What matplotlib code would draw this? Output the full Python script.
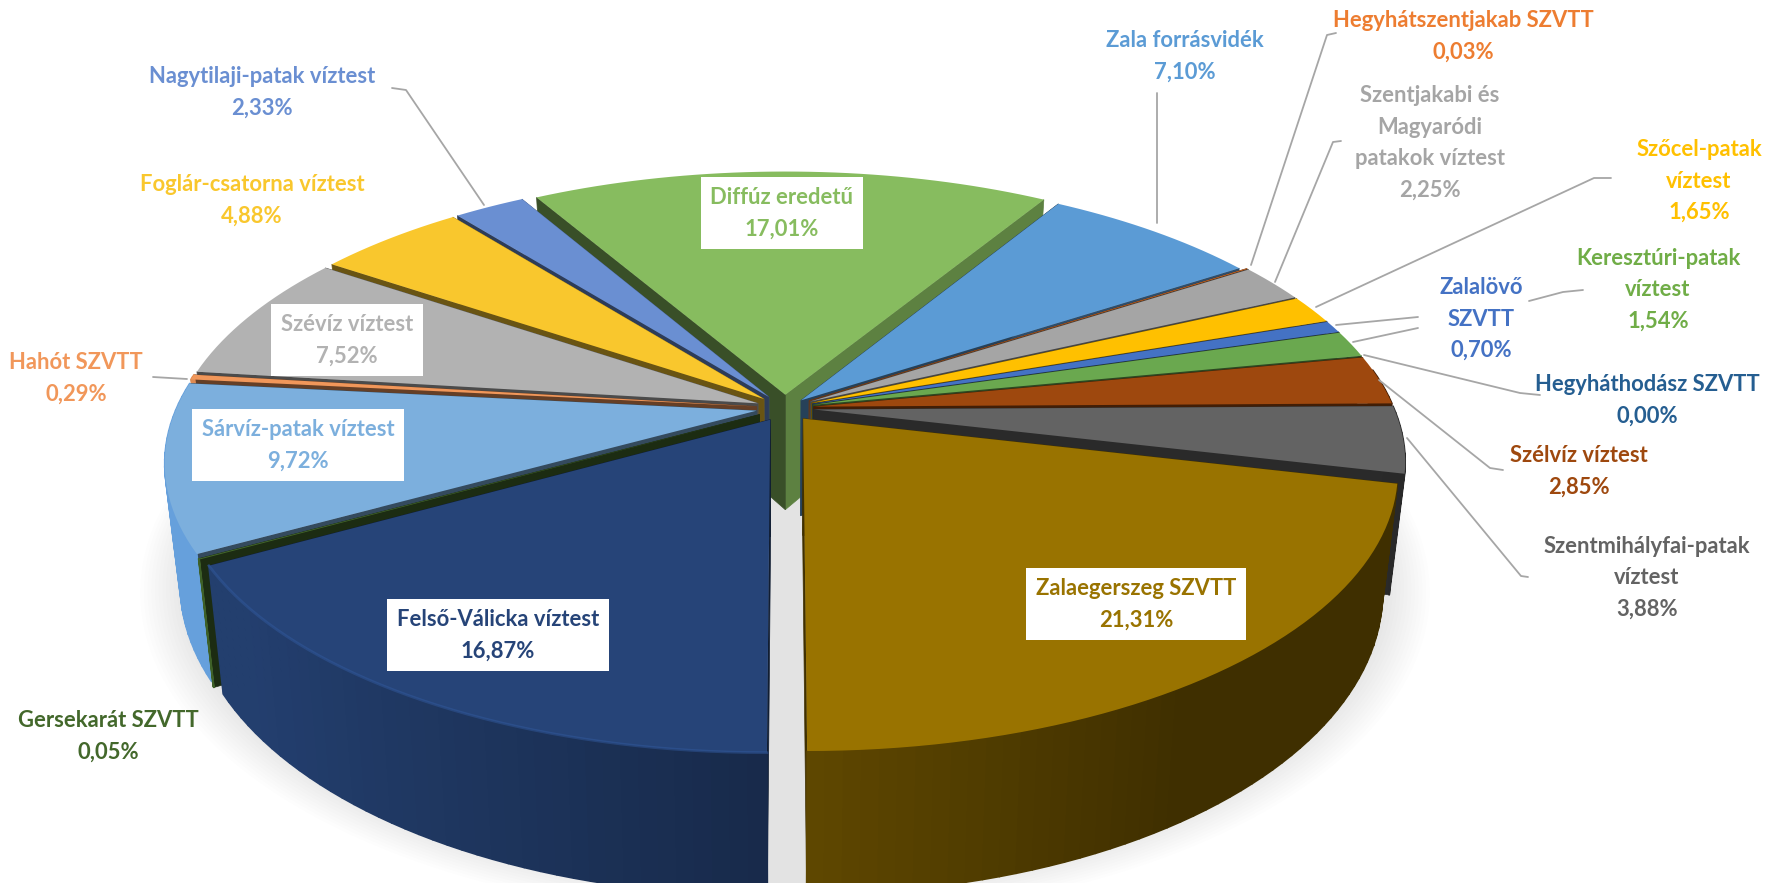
import numpy as np
import matplotlib
matplotlib.use('Agg')
import matplotlib.pyplot as plt
from matplotlib.collections import PolyCollection

plt.rcParams['font.family'] = ['Lato', 'DejaVu Sans']

names = ['Zalaegerszeg SZVTT', 'Szentmihályfai-patak\nvíztest', 'Szélvíz víztest', 'Hegyháthodász SZVTT',
         'Keresztúri-patak\nvíztest', 'Zalalövő\nSZVTT', 'Szőcel-patak\nvíztest',
         'Szentjakabi és\nMagyaródi\npatakok víztest', 'Hegyhátszentjakab SZVTT', 'Zala forrásvidék',
         'Diffúz eredetű', 'Nagytilaji-patak víztest', 'Foglár-csatorna víztest', 'Szévíz víztest',
         'Hahót SZVTT', 'Sárvíz-patak víztest', 'Gersekarát SZVTT', 'Felső-Válicka víztest']
values = [21.31, 3.88, 2.85, 0.00, 1.54, 0.70, 1.65, 2.25, 0.03, 7.10, 17.01, 2.33, 4.88, 7.52, 0.29, 9.72, 0.05, 16.87]
colors = ['#997300', '#636363', '#9E480E', '#255E91', '#6AA84F', '#4472C4', '#FFC000', '#A5A5A5', '#ED7D31',
          '#5B9BD5', '#87BC5F', '#6A8FD2', '#F9C72D', '#B2B2B2', '#F1975A', '#7CAFDD', '#43682B', '#264478']
text_colors = ['#997300', '#636363', '#9E480E', '#255E91', '#70AD47', '#4472C4', '#FFC000', '#A5A5A5', '#ED7D31',
               '#5B9BD5', '#87BC5F', '#6A8FD2', '#F9C72D', '#B2B2B2', '#F1975A', '#7CAFDD', '#43682B', '#264478']
label_x = [1136, 1647, 1579, 1647, 1658, 1481, 1699, 1430, 1463, 1185, 782, 262, 252, 347, 76, 298, 108, 498]
label_y = [604, 578, 471, 400, 290, 319, 181, 143, 36, 56, 213, 92, 200, 340, 378, 445, 736, 635]
boxed = ['Zalaegerszeg SZVTT', 'Diffúz eredetű', 'Szévíz víztest', 'Sárvíz-patak víztest', 'Felső-Válicka víztest']

leaders = [[(392, 88), (406, 90), (484, 205)],
           [(1157, 93), (1157, 223)],
           [(1336, 33), (1327, 35), (1251, 265)],
           [(1341, 141), (1333, 142), (1275, 282)],
           [(1611, 178), (1594, 178), (1316, 307)],
           [(1418, 317), (1336, 325)],
           [(1418, 328), (1353, 342)],
           [(1583, 290), (1563, 292), (1529, 301)],
           [(1540, 395), (1520, 393), (1364, 355)],
           [(1503, 470), (1490, 468), (1379, 380)],
           [(1528, 577), (1521, 576), (1407, 438)],
           [(153, 377), (187, 379)]]

# perspective of the tilted pie, in pixels
cx, cy = 785, 408
rx, ry = 580, 268
persp = 0.181
depth = 116
explode = 0.05


def project(u, v):
    s = 1 / (1 + persp * v)
    return cx + rx * u * s, cy - ry * v * s, s


def lower(x, y, s):
    return cx + (x - cx) * 0.975, y + depth * s


def shade(c, f):
    rgb = np.array(matplotlib.colors.to_rgb(c))
    return tuple(np.clip(rgb * f, 0, 1))


def wall(u0, v0, u1, v1, color):
    x0, y0, s0 = project(u0, v0)
    x1, y1, s1 = project(u1, v1)
    a0 = lower(x0, y0, s0)
    a1 = lower(x1, y1, s1)
    ax.fill([x0, x1, a1[0], a0[0]], [y0, y1, a1[1], a0[1]], color=color, lw=0.5)


fig = plt.figure(figsize=(17.81, 8.83), dpi=100)
ax = fig.add_axes([0, 0, 1, 1])
ax.set_xlim(0, 1781)
ax.set_ylim(883, 0)
ax.axis('off')

# soft shadow under the pie
ang = np.radians(np.linspace(0, 360, 240))
for k in range(14):
    r = 1.09 - k * 0.006
    x, y, s = project(r * np.cos(ang), r * np.sin(ang))
    ax.fill(x, y + depth * s + 4, color='black', alpha=0.007, lw=0)

edges = np.concatenate([[-90], -90 + (np.cumsum(values) / np.sum(values)) * 360])
mids = (edges[:-1] + edges[1:]) / 2
order = np.argsort(-np.sin(np.radians(mids)))

for i in order:
    if values[i] == 0:
        continue
    t0, t1, b = edges[i], edges[i + 1], np.radians(mids[i])
    e = 0.04 if names[i] == 'Zala forrásvidék' else explode
    ou, ov = e * np.cos(b), e * np.sin(b)
    th = np.radians(np.linspace(t0, t1, max(3, int((t1 - t0) / 1.5) + 2)))
    u = ou + np.cos(th)
    v = ov + np.sin(th)

    # flat cut faces, one on each side of the slice
    n0 = np.radians(t0 - 90)
    f0 = 0.42 + 0.35 * max(0, np.cos(n0) - 0.4) / 0.6
    wall(ou, ov, u[0], v[0], shade(colors[i], f0))
    wall(ou, ov, u[-1], v[-1], shade(colors[i], 0.42))

    # curved outer face, lit from the left, only the part facing us
    x, y, s = project(u, v)
    xb, yb = lower(x, y, s)
    rim = '#6FAEEF' if names[i] == 'Sárvíz-patak víztest' else colors[i]
    polys, cols = [], []
    for j in range(len(th) - 1):
        if np.sin(th[j]) > 0.12 and np.sin(th[j + 1]) > 0.12:
            continue
        polys.append([(x[j], y[j]), (x[j + 1], y[j + 1]), (xb[j + 1], yb[j + 1]), (xb[j], yb[j])])
        f = min(0.92, max(0.41, 0.62 + 0.38 * np.cos((th[j] + th[j + 1]) / 2 - np.pi)))
        cols.append(shade(rim, f))
    ax.add_collection(PolyCollection(polys, facecolors=cols, edgecolors=cols, linewidths=1.2))

    # top face
    ax0, ay0, _ = project(ou, ov)
    ax.fill(np.r_[ax0, x], np.r_[ay0, y], color=colors[i], lw=0)

    if names[i] == 'Felső-Válicka víztest':
        ax.plot(x, y, color=shade(colors[i], 1.35), lw=2, alpha=0.45)

for pts in leaders:
    ax.plot([p[0] for p in pts], [p[1] for p in pts], color='#a6a6a6', lw=1.3, solid_capstyle='round')

for i, name in enumerate(names):
    txt = name + '\n' + f'{values[i]:.2f}'.replace('.', ',') + '%'
    box = dict(fc='white', ec='none', pad=7) if name in boxed else None
    ax.text(label_x[i], label_y[i], txt, color=text_colors[i], fontsize=15.8, fontweight='bold',
            ha='center', va='center', linespacing=1.62, bbox=box)

fig.savefig('out.png', dpi=100)
